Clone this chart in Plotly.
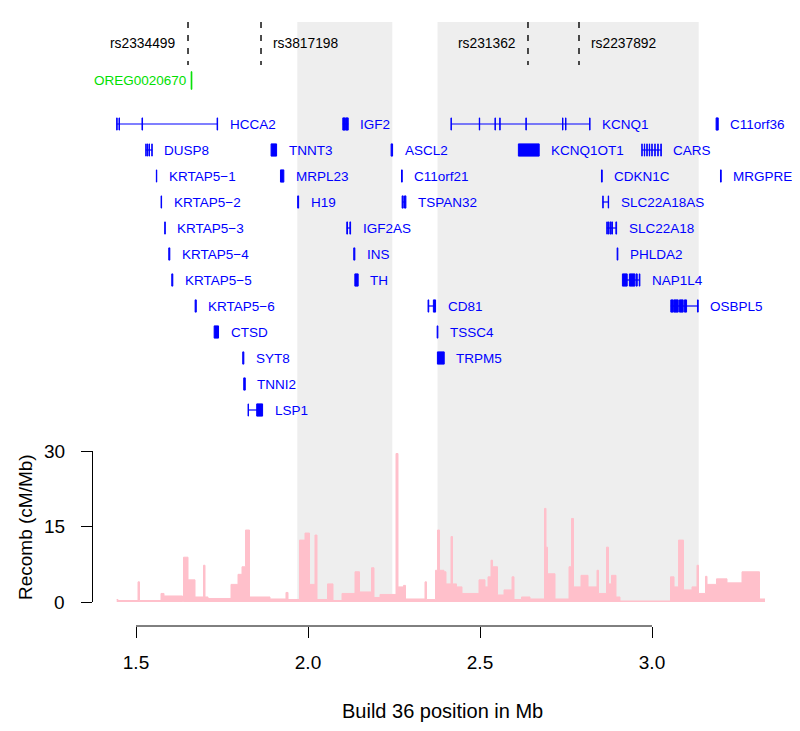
import plotly.graph_objects as go

# ---------------- data ----------------
snp_names = ["rs2334499", "rs3817198", "rs231362", "rs2237892"]
snp_pos = [1.6512, 1.8634, 2.6395, 2.7878]
snp_side = ["left", "right", "left", "right"]

reg_name = "OREG0020670"
reg_start = 1.6604
reg_end = 1.6623

highlight_start = [1.9689, 2.3765]
highlight_end = [2.2451, 3.1358]

gene_names = [
    "HCCA2", "IGF2", "KCNQ1", "C11orf36",
    "DUSP8", "TNNT3", "ASCL2", "KCNQ1OT1", "CARS",
    "KRTAP5\u22121", "MRPL23", "C11orf21", "CDKN1C", "MRGPRE",
    "KRTAP5\u22122", "H19", "TSPAN32", "SLC22A18AS",
    "KRTAP5\u22123", "IGF2AS", "SLC22A18",
    "KRTAP5\u22124", "INS", "PHLDA2",
    "KRTAP5\u22125", "TH", "NAP1L4",
    "KRTAP5\u22126", "CD81", "OSBPL5",
    "CTSD", "TSSC4",
    "SYT8", "TRPM5",
    "TNNI2",
    "LSP1",
]
gene_rows = [
    0, 0, 0, 0,
    1, 1, 1, 1, 1,
    2, 2, 2, 2, 2,
    3, 3, 3, 3,
    4, 4, 4,
    5, 5, 5,
    6, 6, 6,
    7, 7, 7,
    8, 8,
    9, 9,
    10,
    11,
]
gene_exons = [
    [(1.4439, 1.4452), (1.4506, 1.4519), (1.5174, 1.5190), (1.7358, 1.7372)],
    [(2.1012, 2.1085), (2.1100, 2.1169)],
    [(2.4157, 2.4167), (2.4980, 2.4990), (2.5436, 2.5446), (2.5575, 2.5585),
     (2.6335, 2.6345), (2.7400, 2.7410), (2.7488, 2.7498), (2.8188, 2.8198)],
    [(3.1864, 3.1925)],
    [(1.5285, 1.5295), (1.5330, 1.5342), (1.5380, 1.5392), (1.5460, 1.5471)],
    [(1.8927, 1.9087)],
    [(2.2416, 2.2459)],
    [(2.6116, 2.6721)],
    [(2.9704, 2.9714), (2.9777, 2.9787), (2.9850, 2.9860), (2.9922, 2.9932),
     (2.9995, 3.0005), (3.0082, 3.0092), (3.0169, 3.0179), (3.0257, 3.0270)],
    [(1.5592, 1.5603)],
    [(1.9200, 1.9297)],
    [(2.2718, 2.2740)],
    [(2.8531, 2.8553)],
    [(3.1991, 3.2012)],
    [(1.5729, 1.5744)],
    [(1.9700, 1.9727)],
    [(2.2736, 2.2768), (2.2805, 2.2846)],
    [(2.8570, 2.8580), (2.8728, 2.8739)],
    [(1.5835, 1.5851)],
    [(2.1128, 2.1148), (2.1218, 2.1238)],
    [(2.8686, 2.8700), (2.8730, 2.8745), (2.8780, 2.8800), (2.8830, 2.8850), (2.8950, 2.8971)],
    [(1.5953, 1.5983)],
    [(2.1330, 2.1362)],
    [(2.8987, 2.9007)],
    [(1.6040, 1.6070)],
    [(2.1362, 2.1458)],
    [(2.9140, 2.9279), (2.9343, 2.9503), (2.9538, 2.9570), (2.9630, 2.9648)],
    [(1.6719, 1.6752)],
    [(2.3490, 2.3510), (2.3645, 2.3709)],
    [(3.0547, 3.0620), (3.0640, 3.0762), (3.0797, 3.0907), (3.0942, 3.1005), (3.1322, 3.1343)],
    [(1.7272, 1.7399)],
    [(2.3755, 2.3775)],
    [(1.8103, 1.8135)],
    [(2.3762, 2.3960)],
    [(1.8132, 1.8176)],
    [(1.8259, 1.8268), (1.8509, 1.8680)],
]

recomb_pos = [
    1.4439, 1.4477, 1.5058, 1.5102, 1.5727, 1.5814, 1.6352, 1.6381, 1.6512, 1.6715,
    1.6962, 1.7006, 1.7093, 1.7762, 1.7965, 1.8081, 1.8183, 1.8299, 1.8895, 1.9360,
    1.9419, 1.9753, 1.9913, 2.0044, 2.0203, 2.0262, 2.0567, 2.0727, 2.0988, 2.1366,
    2.1497, 2.1846, 2.1919, 2.2093, 2.2558, 2.2616, 2.2776, 2.2834, 2.3401, 2.3445,
    2.3706, 2.3765, 2.3823, 2.3953, 2.4012, 2.4157, 2.4201, 2.4317, 2.4477, 2.4971,
    2.5145, 2.5233, 2.5320, 2.5364, 2.5509, 2.5698, 2.5930, 2.5988, 2.6206, 2.6453,
    2.6875, 2.6919, 2.6962, 2.7180, 2.7587, 2.7660, 2.7718, 2.7936, 2.8140, 2.8401,
    2.8445, 2.8677, 2.8735, 2.8823, 2.8953, 2.9070, 3.0538, 3.0640, 3.0771, 3.0916,
    3.1163, 3.1308, 3.1352, 3.1555, 3.1599, 3.1875, 3.2180, 3.2616, 3.3125, 3.3285,
]
recomb_rate = [
    0.5, 0.3, 4.0, 0.3, 1.7, 1.2, 0.1, 8.9, 4.4, 1.0,
    7.3, 1.0, 0.7, 3.5, 5.5, 7.0, 14.3, 1.0, 0.6, 1.9,
    0.5, 12.3, 13.7, 3.5, 13.3, 0.5, 3.6, 0.3, 1.7, 6.0,
    2.0, 6.8, 0.9, 1.5, 29.5, 3.0, 3.3, 0.6, 4.0, 0.5,
    6.3, 14.3, 6.3, 6.0, 3.6, 13.0, 3.6, 3.0, 1.7, 4.4,
    3.0, 5.0, 8.3, 7.0, 1.4, 2.4, 5.0, 0.5, 1.0, 0.6,
    18.6, 10.9, 5.6, 0.6, 7.0, 16.6, 3.0, 5.3, 3.0, 6.3,
    1.7, 10.9, 3.6, 5.3, 1.0, 0.2, 5.0, 3.0, 12.3, 2.4,
    3.0, 7.3, 1.7, 5.1, 3.5, 4.6, 3.8, 6.0, 0.6, 0.6,
]

x_ticks = [1.5, 2.0, 2.5, 3.0]
x_ticktext = ["1.5", "2.0", "2.5", "3.0"]
y_ticks = [0, 15, 30]
y_ticktext = ["0", "15", "30"]

# ---------------- layout constants ----------------
W, H = 800, 731
# the page body adds an 8px margin around the figure; compensate for it
OFF_X, OFF_Y = 8.0, 8.0
FONT = "Liberation Sans, Arial, Helvetica, sans-serif"
BLUE = "#0000FF"
GREEN = "#00E000"
PINK = "#FFC0CB"
GREY = "#EEEEEE"

px_per_mb = 344.0
x_at_15 = 136.0 - OFF_X
x_range = [1.5 - x_at_15 / px_per_mb, 1.5 + (W - x_at_15) / px_per_mb]

row0_px, row_step = 124.0 - OFF_Y, 26.0
y2_range = [(H - row0_px) / row_step, (0 - row0_px) / row_step]


def paper_y(py):
    return 1 - (py - OFF_Y) / H


def paper_x(px):
    return (px - OFF_X) / W


def row_of(py):
    return (py - OFF_Y - row0_px) / row_step


exon_half = 0.235

fig = go.Figure()

# recombination rate
fig.add_trace(go.Scatter(
    x=recomb_pos, y=recomb_rate, mode="lines", line_shape="hv",
    line=dict(color=PINK, width=1), fill="tozeroy", fillcolor=PINK,
    xaxis="x", yaxis="y", hoverinfo="skip", showlegend=False))

# gene introns
ix, iy = [], []
for exs, r in zip(gene_exons, gene_rows):
    if len(exs) > 1:
        ix += [exs[0][0], exs[-1][1], None]
        iy += [r, r, None]
fig.add_trace(go.Scatter(x=ix, y=iy, mode="lines", line=dict(color=BLUE, width=1.2),
                         xaxis="x", yaxis="y2", hoverinfo="skip", showlegend=False))

# gene exons
ex, ey = [], []
for exs, r in zip(gene_exons, gene_rows):
    for s, e in exs:
        ex += [s, e, e, s, s, None]
        ey += [r - exon_half, r - exon_half, r + exon_half, r + exon_half, r - exon_half, None]
fig.add_trace(go.Scatter(x=ex, y=ey, mode="lines", fill="toself", fillcolor=BLUE,
                         line=dict(color=BLUE, width=1), xaxis="x", yaxis="y2",
                         hoverinfo="skip", showlegend=False))

# regulatory element
reg_row = row_of(80.5)
reg_half = 0.34
fig.add_trace(go.Scatter(
    x=[reg_start, reg_end, reg_end, reg_start, reg_start],
    y=[reg_row - reg_half, reg_row - reg_half, reg_row + reg_half, reg_row + reg_half, reg_row - reg_half],
    mode="lines", fill="toself", fillcolor=GREEN, line=dict(color=GREEN, width=1),
    xaxis="x", yaxis="y2", hoverinfo="skip", showlegend=False))

# SNP dashed lines
sx, sy = [], []
for p in snp_pos:
    sx += [p, p, None]
    sy += [row_of(22), row_of(65), None]
fig.add_trace(go.Scatter(x=sx, y=sy, mode="lines",
                         line=dict(color="black", width=1.4, dash="6px,7px"),
                         xaxis="x", yaxis="y2", hoverinfo="skip", showlegend=False))

annotations = []
for name, exs, r in zip(gene_names, gene_exons, gene_rows):
    annotations.append(dict(x=exs[-1][1], y=r, xref="x", yref="y2", text=name,
                            showarrow=False, xanchor="left", yanchor="middle", xshift=10,
                            font=dict(family=FONT, size=13.5, color=BLUE)))
for name, p, side in zip(snp_names, snp_pos, snp_side):
    annotations.append(dict(x=p, y=row_of(43.5), xref="x", yref="y2", text=name,
                            showarrow=False,
                            xanchor="right" if side == "left" else "left",
                            xshift=-10 if side == "left" else 10,
                            font=dict(family=FONT, size=13.8, color="black")))
annotations.append(dict(x=reg_start, y=reg_row, xref="x", yref="y2", text=reg_name,
                        showarrow=False, xanchor="right", xshift=-3,
                        font=dict(family=FONT, size=13.5, color=GREEN)))
# y tick labels (horizontal, R las=1 style)
for v, t in zip(y_ticks, y_ticktext):
    annotations.append(dict(x=paper_x(67), y=v, xref="paper", yref="y", text=t,
                            showarrow=False, xanchor="right", yanchor="middle",
                            font=dict(family=FONT, size=19, color="black")))
annotations.append(dict(x=paper_x(443), y=paper_y(711), xref="paper", yref="paper",
                        text="Build 36 position in Mb", showarrow=False,
                        xanchor="center", yanchor="middle",
                        font=dict(family=FONT, size=20, color="black")))
annotations.append(dict(x=paper_x(25), y=paper_y(527), xref="paper", yref="paper",
                        text="Recomb (cM/Mb)", showarrow=False, textangle=-90,
                        xanchor="center", yanchor="middle",
                        font=dict(family=FONT, size=19, color="black")))

shapes = []
for s, e in zip(highlight_start, highlight_end):
    shapes.append(dict(type="rect", xref="x", yref="paper", x0=s, x1=e,
                       y0=paper_y(602), y1=paper_y(22), fillcolor=GREY,
                       line=dict(width=0), layer="below"))
shapes.append(dict(type="line", xref="x", yref="paper", x0=x_ticks[0], x1=x_ticks[-1],
                   y0=paper_y(626), y1=paper_y(626), line=dict(color="black", width=1)))

fig.update_layout(
    width=W, height=H, margin=dict(l=0, r=0, t=0, b=0, pad=0, autoexpand=False),
    paper_bgcolor="white", plot_bgcolor="rgba(0,0,0,0)",
    font=dict(family=FONT, color="black"),
    showlegend=False,
    xaxis=dict(domain=[0, 1], range=x_range, anchor="free", position=paper_y(626),
               automargin=False,
               showline=False, showgrid=False, zeroline=False,
               ticks="outside", ticklen=11, tickwidth=1, tickcolor="black",
               tickvals=x_ticks, ticktext=x_ticktext, ticklabelstandoff=8,
               tickfont=dict(family=FONT, size=19, color="black")),
    yaxis=dict(domain=[paper_y(602), paper_y(451)], range=[0, 30], anchor="free",
               automargin=False,
               position=paper_x(91.5), showline=True, linecolor="black", linewidth=1,
               showgrid=False, zeroline=False, ticks="outside", ticklen=11,
               tickwidth=1, tickcolor="black", tickvals=y_ticks, showticklabels=False),
    yaxis2=dict(domain=[0, 1], range=y2_range, anchor="x", visible=False,
                automargin=False, showgrid=False, zeroline=False),
    annotations=annotations,
    shapes=shapes,
)

fig.write_html("out.html")
